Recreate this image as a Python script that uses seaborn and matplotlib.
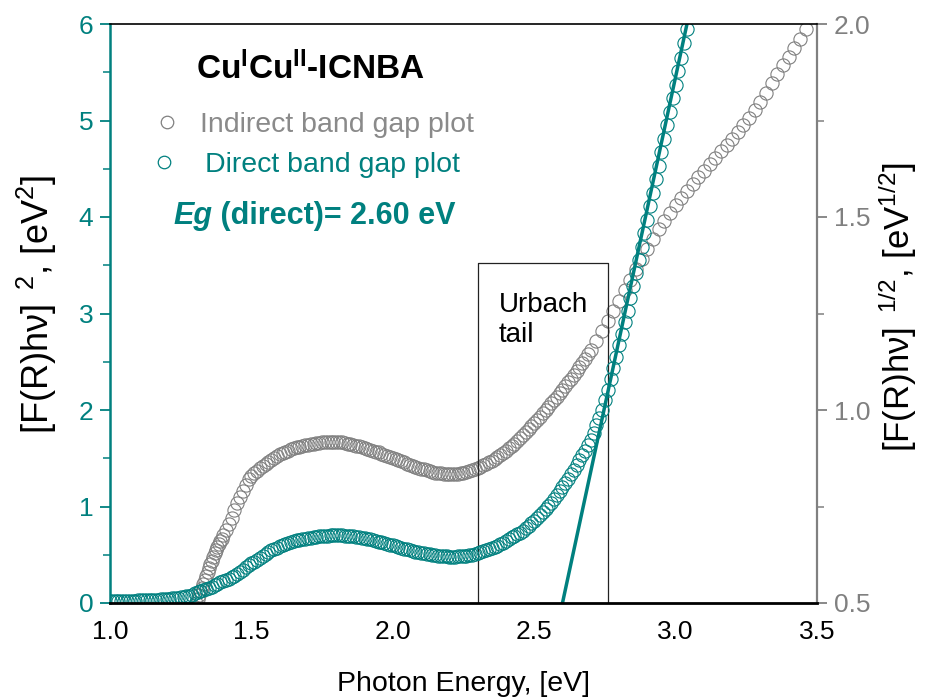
import matplotlib
matplotlib.use("Agg")
import matplotlib.pyplot as plt
import seaborn as sns
import pandas as pd
from matplotlib.lines import Line2D
from matplotlib.ticker import MultipleLocator, FormatStrFormatter

# ---------------- data ----------------
direct_E = [
    1.00, 1.01, 1.02, 1.03, 1.04, 1.05, 1.06, 1.07, 1.08, 1.09,
    1.10, 1.11, 1.12, 1.13, 1.14, 1.15, 1.16, 1.17, 1.18, 1.19,
    1.20, 1.21, 1.22, 1.23, 1.24, 1.25, 1.26, 1.27, 1.28, 1.29,
    1.30, 1.31, 1.32, 1.33, 1.34, 1.35, 1.36, 1.37, 1.38, 1.39,
    1.40, 1.41, 1.42, 1.43, 1.44, 1.45, 1.46, 1.47, 1.48, 1.49,
    1.50, 1.51, 1.52, 1.53, 1.54, 1.55, 1.56, 1.57, 1.58, 1.59,
    1.60, 1.61, 1.62, 1.63, 1.64, 1.65, 1.66, 1.67, 1.68, 1.69,
    1.70, 1.71, 1.72, 1.73, 1.74, 1.75, 1.76, 1.77, 1.78, 1.79,
    1.80, 1.81, 1.82, 1.83, 1.84, 1.85, 1.86, 1.87, 1.88, 1.89,
    1.90, 1.91, 1.92, 1.93, 1.94, 1.95, 1.96, 1.97, 1.98, 1.99,
    2.00, 2.01, 2.02, 2.03, 2.04, 2.05, 2.06, 2.07, 2.08, 2.09,
    2.10, 2.11, 2.12, 2.13, 2.14, 2.15, 2.16, 2.17, 2.18, 2.19,
    2.20, 2.21, 2.22, 2.23, 2.24, 2.25, 2.26, 2.27, 2.28, 2.29,
    2.30, 2.31, 2.32, 2.33, 2.34, 2.35, 2.36, 2.37, 2.38, 2.39,
    2.40, 2.41, 2.42, 2.43, 2.44, 2.45, 2.46, 2.47, 2.48, 2.49,
    2.50, 2.51, 2.52, 2.53, 2.54, 2.55, 2.56, 2.57, 2.58, 2.59,
    2.60, 2.61, 2.62, 2.63, 2.64, 2.65, 2.66, 2.67, 2.68, 2.69,
    2.70, 2.71, 2.72, 2.73, 2.74, 2.75, 2.76, 2.77, 2.78, 2.79,
    2.80, 2.81, 2.82, 2.83, 2.84, 2.85, 2.86, 2.87, 2.88, 2.89,
    2.90, 2.91, 2.92, 2.93, 2.94, 2.95, 2.96, 2.97, 2.98, 2.99,
    3.00, 3.01, 3.02, 3.03, 3.04, 3.05]
direct_F = [
    .02, .02, .02, .02, .02, .02, .025, .025, .025, .025,
    .03, .03, .03, .03, .03, .035, .035, .035, .04, .04,
    .045, .045, .05, .05, .055, .06, .065, .07, .075, .085,
    .10, .11, .12, .13, .145, .16, .17, .185, .20, .215,
    .23, .24, .25, .265, .28, .30, .32, .345, .37, .39,
    .41, .43, .45, .47, .49, .51, .53, .545, .56, .575,
    .59, .60, .61, .62, .63, .64, .65, .655, .66, .665,
    .67, .675, .68, .685, .69, .69, .69, .695, .70, .70,
    .70, .70, .70, .695, .69, .69, .69, .685, .68, .675,
    .67, .665, .66, .65, .64, .635, .63, .62, .61, .605,
    .60, .59, .58, .57, .56, .555, .55, .54, .53, .525,
    .52, .515, .51, .505, .50, .495, .49, .49, .49, .485,
    .48, .48, .48, .485, .49, .49, .49, .495, .50, .51,
    .52, .53, .54, .55, .56, .57, .58, .595, .61, .625,
    .64, .66, .68, .695, .71, .73, .75, .775, .80, .825,
    .85, .88, .91, .94, .97, 1.005, 1.04, 1.08, 1.12, 1.16,
    1.20, 1.245, 1.29, 1.335, 1.38, 1.43, 1.48, 1.53, 1.58, 1.635,
    1.69, 1.76, 1.84, 1.92, 2.00, 2.10, 2.21, 2.32, 2.44, 2.55,
    2.67, 2.79, 2.91, 3.03, 3.16, 3.29, 3.42, 3.55, 3.69, 3.83,
    3.97, 4.11, 4.25, 4.39, 4.53, 4.67, 4.81, 4.95, 5.09, 5.23,
    5.37, 5.51, 5.65, 5.80, 5.95, 6.09]

indirect_E = [
    1.30, 1.305, 1.31, 1.315, 1.32, 1.325, 1.33, 1.335, 1.34, 1.345,
    1.35, 1.355, 1.36, 1.365, 1.37, 1.375, 1.38, 1.385, 1.39, 1.395,
    1.40, 1.41, 1.42, 1.43, 1.44, 1.45, 1.46, 1.47, 1.48, 1.49,
    1.50, 1.51, 1.52, 1.53, 1.54, 1.55, 1.56, 1.57, 1.58, 1.59,
    1.60, 1.61, 1.62, 1.63, 1.64, 1.65, 1.66, 1.67, 1.68, 1.69,
    1.70, 1.71, 1.72, 1.73, 1.74, 1.75, 1.76, 1.77, 1.78, 1.79,
    1.80, 1.81, 1.82, 1.83, 1.84, 1.85, 1.86, 1.87, 1.88, 1.89,
    1.90, 1.91, 1.92, 1.93, 1.94, 1.95, 1.96, 1.97, 1.98, 1.99,
    2.00, 2.01, 2.02, 2.03, 2.04, 2.05, 2.06, 2.07, 2.08, 2.09,
    2.10, 2.11, 2.12, 2.13, 2.14, 2.15, 2.16, 2.17, 2.18, 2.19,
    2.20, 2.21, 2.22, 2.23, 2.24, 2.25, 2.26, 2.27, 2.28, 2.29,
    2.30, 2.31, 2.32, 2.33, 2.34, 2.35, 2.36, 2.37, 2.38, 2.39,
    2.40, 2.41, 2.42, 2.43, 2.44, 2.45, 2.46, 2.47, 2.48, 2.49,
    2.50, 2.51, 2.52, 2.53, 2.54, 2.55, 2.56, 2.57, 2.58, 2.59,
    2.60, 2.61, 2.62, 2.63, 2.64, 2.65, 2.66, 2.67, 2.68, 2.69,
    2.70, 2.72, 2.74, 2.76, 2.78, 2.80, 2.82, 2.84, 2.86, 2.88,
    2.90, 2.92, 2.94, 2.96, 2.98, 3.00, 3.02, 3.04, 3.06, 3.08,
    3.10, 3.12, 3.14, 3.16, 3.18, 3.20, 3.22, 3.24, 3.26, 3.28,
    3.30, 3.32, 3.34, 3.36, 3.38, 3.40, 3.42, 3.44, 3.46]
indirect_F = [
    .49, .50, .51, .52, .53, .54, .55, .56, .57, .58,
    .59, .60, .61, .62, .63, .637, .645, .652, .66, .667,
    .675, .69, .705, .72, .74, .76, .775, .79, .805, .82,
    .830, .837, .843, .849, .855, .860, .865, .870, .875, .880,
    .885, .889, .892, .895, .898, .901, .903, .905, .907, .909,
    .910, .912, .913, .914, .915, .916, .916, .917, .917, .917,
    .917, .917, .916, .915, .913, .912, .910, .908, .906, .904,
    .902, .900, .897, .895, .892, .890, .887, .884, .881, .879,
    .876, .873, .870, .867, .864, .861, .858, .856, .853, .851,
    .848, .846, .844, .842, .840, .838, .837, .836, .835, .834,
    .834, .834, .834, .835, .836, .837, .839, .841, .844, .847,
    .850, .853, .857, .861, .865, .869, .873, .878, .883, .889,
    .895, .901, .907, .913, .920, .927, .934, .942, .950, .958,
    .966, .974, .983, .991, 1.000, 1.008, 1.017, 1.025, 1.034, 1.043,
    1.053, 1.062, 1.072, 1.081, 1.091, 1.101, 1.111, 1.122, 1.133, 1.144,
    1.156, 1.180, 1.205, 1.230, 1.256, 1.283, 1.310, 1.337, 1.364, 1.392,
    1.418, 1.444, 1.468, 1.490, 1.510, 1.530, 1.549, 1.568, 1.586, 1.603,
    1.620, 1.637, 1.653, 1.670, 1.686, 1.703, 1.720, 1.738, 1.757, 1.777,
    1.799, 1.822, 1.846, 1.870, 1.893, 1.915, 1.938, 1.962, 1.986]

fit_E = [2.60, 3.06]
fit_F = [0.0, 6.27]

urbach_E = [2.30, 2.76]
urbach_top = 3.52

x_ticks = [1.0, 1.5, 2.0, 2.5, 3.0, 3.5]
left_ticks = [0, 1, 2, 3, 4, 5, 6]
right_ticks = [0.5, 1.0, 1.5, 2.0]

title_text = r"Cu$^{\mathbf{I}}$Cu$^{\mathbf{II}}$-ICNBA"
legend_labels = ["Indirect band gap plot", "Direct band gap plot"]
eg_text = " (direct)= 2.60 eV"

TEAL = "#00807f"
GRAY = "#808080"
GRAYTXT = "#8a8a8a"

# ---------------- style ----------------
sns.set_style("white")
plt.rcParams['font.family'] = ['Liberation Sans', 'DejaVu Sans']
plt.rcParams['mathtext.fontset'] = 'custom'
plt.rcParams['mathtext.rm'] = 'Liberation Sans'
plt.rcParams['mathtext.it'] = 'Liberation Sans:italic'
plt.rcParams['mathtext.bf'] = 'Liberation Sans:bold'

W, H = 930, 700
fig = plt.figure(figsize=(W / 100, H / 100), dpi=100)
ax = fig.add_axes([110 / W, 1 - 603 / H, 707 / W, 579 / H])
ax2 = ax.twinx()

# indirect (right axis)
ind = pd.DataFrame({"E": indirect_E, "F": indirect_F})
sns.lineplot(data=ind, x="E", y="F", ax=ax2, linestyle="", marker="o",
             markersize=9.5, markerfacecolor="none", markeredgecolor=GRAY,
             markeredgewidth=0.8, color=GRAY, estimator=None, sort=False)

# direct (left axis)
dire = pd.DataFrame({"E": direct_E, "F": direct_F})
sns.lineplot(data=dire, x="E", y="F", ax=ax, linestyle="", marker="o",
             markersize=9.5, markerfacecolor="none", markeredgecolor=TEAL,
             markeredgewidth=0.8, color=TEAL, estimator=None, sort=False)
sns.lineplot(x=fit_E, y=fit_F, ax=ax, color=TEAL, lw=2.5, estimator=None, sort=False)

# Urbach box
ax.plot([urbach_E[0], urbach_E[0], urbach_E[1], urbach_E[1]],
        [0, urbach_top, urbach_top, 0], color="#222222", lw=0.9, zorder=1)
ax.text(urbach_E[0] + 0.075, urbach_top - 0.30, "Urbach\ntail", fontsize=20,
        va="top", ha="left", linespacing=1.2, color="black")

ax.set_zorder(ax2.get_zorder() + 1)
ax.patch.set_visible(False)

# axes limits and ticks
ax.set_xlim(1.0, 3.5)
ax.set_ylim(0, 6)
ax2.set_ylim(0.5, 2.0)
ax.set_xticks(x_ticks)
ax.xaxis.set_minor_locator(MultipleLocator(0.25))
ax.xaxis.set_major_formatter(FormatStrFormatter("%.1f"))
ax.set_yticks(left_ticks)
ax.yaxis.set_minor_locator(MultipleLocator(0.5))
ax2.set_yticks(right_ticks)
ax2.yaxis.set_minor_locator(MultipleLocator(0.25))
ax2.yaxis.set_major_formatter(FormatStrFormatter("%.1f"))

ax.tick_params(axis="x", which="major", direction="out", length=7, width=1.3,
               colors="black", labelsize=19, pad=5, top=False)
ax.tick_params(axis="x", which="minor", direction="out", length=5, width=1.1,
               colors="black", top=False)
ax.tick_params(axis="y", which="major", direction="out", length=7, width=1.3,
               colors=TEAL, labelsize=19, pad=5, right=False)
ax.tick_params(axis="y", which="minor", direction="out", length=5, width=1.1,
               colors=TEAL, right=False)
ax2.tick_params(axis="y", which="major", direction="out", length=7, width=1.3,
                colors=GRAY, labelsize=19, pad=5)
ax2.tick_params(axis="y", which="minor", direction="out", length=5, width=1.1,
                colors=GRAY)
ax.grid(False)
ax2.grid(False)

for s in ["left", "right", "top", "bottom"]:
    ax2.spines[s].set_visible(s == "right")
ax.spines["right"].set_visible(False)
ax.spines["left"].set_color(TEAL)
ax.spines["left"].set_linewidth(1.8)
ax.spines["bottom"].set_color("black")
ax.spines["bottom"].set_linewidth(2.0)
ax.spines["top"].set_color("black")
ax.spines["top"].set_linewidth(1.2)
ax2.spines["right"].set_color(GRAY)
ax2.spines["right"].set_linewidth(1.6)

ax.set_xlabel("Photon Energy, [eV]", fontsize=20.5, color="black", labelpad=20)
ax.set_ylabel(r"[F(R)hν]$^{\ \ 2}$, [eV$^{2}$]", fontsize=26, color="black")
ax.yaxis.set_label_coords(-0.072, 0.515)
ax2.set_ylabel(r"[F(R)hν]$^{\ \ 1/2}$, [eV$^{1/2}$]", fontsize=25, color="black",
               rotation=90)
ax2.yaxis.set_label_coords(1.084, 0.511)

# annotations (figure pixel placement)
def fx(px):
    return px / W

def fy(py):
    return 1 - py / H

fig.text(fx(196), fy(79), title_text, fontsize=24, fontweight="bold",
         color="black", ha="left", va="baseline")
fig.text(fx(200), fy(132), legend_labels[0], fontsize=20.5, color=GRAYTXT,
         ha="left", va="baseline")
fig.text(fx(205), fy(172), legend_labels[1], fontsize=20.5, color=TEAL,
         ha="left", va="baseline")
fig.add_artist(Line2D([fx(167)], [fy(122)], transform=fig.transFigure, marker="o",
                      markersize=9, markerfacecolor="none", markeredgecolor=GRAY,
                      markeredgewidth=0.9, linestyle=""))
fig.add_artist(Line2D([fx(164)], [fy(162)], transform=fig.transFigure, marker="o",
                      markersize=9, markerfacecolor="none", markeredgecolor=TEAL,
                      markeredgewidth=0.9, linestyle=""))

t_eg = fig.text(fx(173), fy(224), "Eg", fontsize=22, fontweight="bold",
                fontstyle="italic", color=TEAL, ha="left", va="baseline")
renderer = fig.canvas.get_renderer()
bb = t_eg.get_window_extent(renderer=renderer)
fig.text(bb.x1 / (fig.dpi * fig.get_figwidth()), fy(224), eg_text, fontsize=22,
         fontweight="bold", color=TEAL, ha="left", va="baseline")

fig.savefig("out.png", dpi=100)
